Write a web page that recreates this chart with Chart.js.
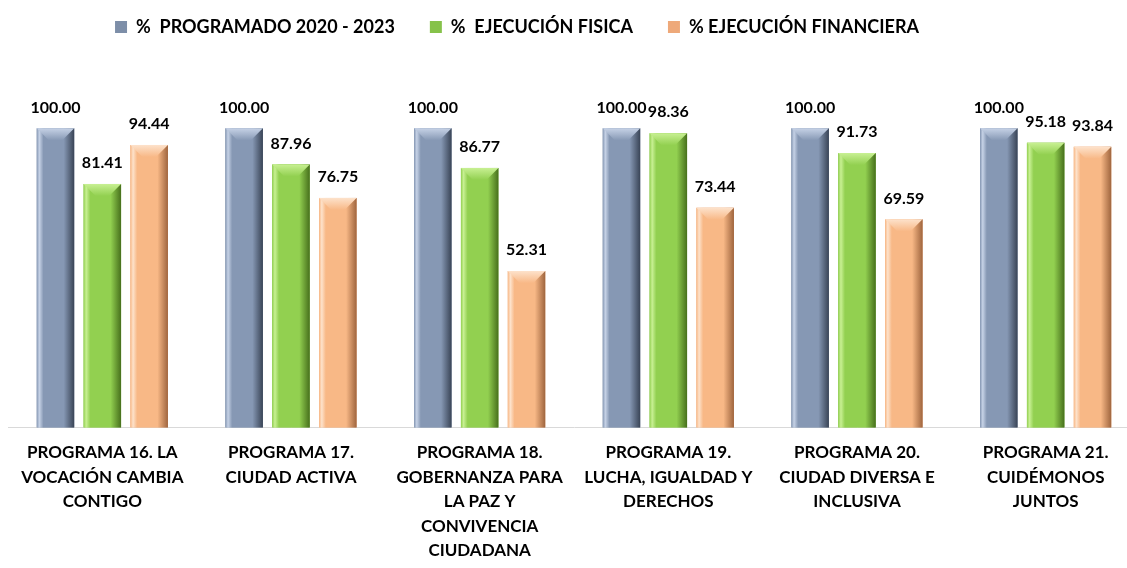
<!DOCTYPE html>
<html lang="es">
<head>
  <meta charset="UTF-8" />
  <title>Programas - ejecución</title>
  <script src="https://cdn.jsdelivr.net/npm/chart.js"></script>
  <style>
    html, body { margin: 0; padding: 0; background: #fff; overflow: hidden; height: 568px; }
    .wrap { width: 1140px; height: 578px; }
  </style>
</head>
<body>
  <div class="wrap"><canvas id="chartProg"></canvas></div>

  <script>
    const programas = [
      ["PROGRAMA 16. LA", "VOCACIÓN CAMBIA", "CONTIGO"],
      ["PROGRAMA 17.", "CIUDAD ACTIVA"],
      ["PROGRAMA 18.", "GOBERNANZA PARA", "LA PAZ Y", "CONVIVENCIA", "CIUDADANA"],
      ["PROGRAMA 19.", "LUCHA, IGUALDAD Y", "DERECHOS"],
      ["PROGRAMA 20.", "CIUDAD DIVERSA E", "INCLUSIVA"],
      ["PROGRAMA 21.", "CUIDÉMONOS", "JUNTOS"]
    ];
    const programado = [100.00, 100.00, 100.00, 100.00, 100.00, 100.00];
    const ejecFisica = [81.41, 87.96, 86.77, 98.36, 91.73, 95.18];
    const ejecFinanciera = [94.44, 76.75, 52.31, 73.44, 69.59, 93.84];

    const FONT = "Lato, 'Open Sans', sans-serif";

    // colores de cada serie: base para la leyenda, tonos para el bisel
    const tonos = [
      { base: '#7d8ea8', light: '#c6d2e6', mid: '#8698b4', dark: '#394456' },
      { base: '#86c24a', light: '#c8f093', mid: '#92d050', dark: '#47701c' },
      { base: '#eea97a', light: '#fde2cb', mid: '#f8b886', dark: '#9f653e' }
    ];

    // barras con efecto biselado (como Excel) + etiquetas de valor
    const biselPlugin = {
      id: 'bisel',
      afterDatasetsDraw(chart) {
        const ctx = chart.ctx;
        chart.data.datasets.forEach((ds, di) => {
          const t = tonos[di];
          chart.getDatasetMeta(di).data.forEach((el, i) => {
            const x0 = el.x - el.width / 2, x1 = el.x + el.width / 2;
            const y0 = el.y, y1 = el.base;
            const b = 12;
            ctx.save();
            const g = ctx.createLinearGradient(x0, 0, x1, 0);
            g.addColorStop(0, t.mid);
            g.addColorStop(0.07, t.light);
            g.addColorStop(0.18, t.mid);
            g.addColorStop(0.72, t.mid);
            g.addColorStop(1, t.dark);
            ctx.fillStyle = g;
            ctx.fillRect(x0, y0, x1 - x0, y1 - y0);
            // bisel superior
            const gt = ctx.createLinearGradient(0, y0, 0, y0 + b);
            gt.addColorStop(0, t.light);
            gt.addColorStop(1, t.mid);
            ctx.beginPath();
            ctx.moveTo(x0, y0); ctx.lineTo(x1, y0);
            ctx.lineTo(x1 - b, y0 + b); ctx.lineTo(x0 + b, y0 + b);
            ctx.closePath();
            ctx.fillStyle = gt;
            ctx.fill();
            // etiqueta de valor
            ctx.fillStyle = '#000';
            ctx.font = "bold 16px " + FONT;
            ctx.textAlign = 'center';
            ctx.textBaseline = 'middle';
            ctx.fillText(ds.data[i].toFixed(2), el.x, y0 - 21);
            ctx.restore();
          });
        });
      }
    };

    // la leyenda no está centrada en el original y queda más arriba
    const leyendaPlugin = {
      id: 'leyendaShift',
      afterLayout(chart) {
        chart.legend.left -= 57;
        chart.legend.right -= 57;
        chart.legend.top -= 21;
      }
    };

    new Chart(document.getElementById('chartProg'), {
      type: 'bar',
      data: {
        labels: programas,
        datasets: [
          { label: '%  PROGRAMADO 2020 - 2023', data: programado, backgroundColor: tonos[0].base },
          { label: '%  EJECUCIÓN FISICA', data: ejecFisica, backgroundColor: tonos[1].base },
          { label: '% EJECUCIÓN FINANCIERA', data: ejecFinanciera, backgroundColor: tonos[2].base }
        ]
      },
      options: {
        responsive: true,
        maintainAspectRatio: false,
        animation: false,
        layout: { padding: { left: 8, right: 0, top: 4, bottom: 2 } },
        datasets: { bar: { categoryPercentage: 0.745, barPercentage: 0.8 } },
        plugins: {
          legend: {
            position: 'top',
            labels: {
              color: '#000',
              boxWidth: 12,
              boxHeight: 12,
              padding: 35,
              font: { family: FONT, size: 18, weight: 'bold' }
            }
          },
          tooltip: { enabled: false }
        },
        scales: {
          x: {
            grid: { display: false, drawTicks: false },
            border: { color: '#d9d9d9', width: 1 },
            ticks: {
              color: '#000',
              autoSkip: false,
              maxRotation: 0,
              padding: 13,
              font: { family: FONT, size: 17, weight: 'bold', lineHeight: 1.44 }
            }
          },
          y: {
            display: false,
            min: 0,
            max: 120.5
          }
        }
      },
      plugins: [biselPlugin, leyendaPlugin]
    });
  </script>
</body>
</html>
